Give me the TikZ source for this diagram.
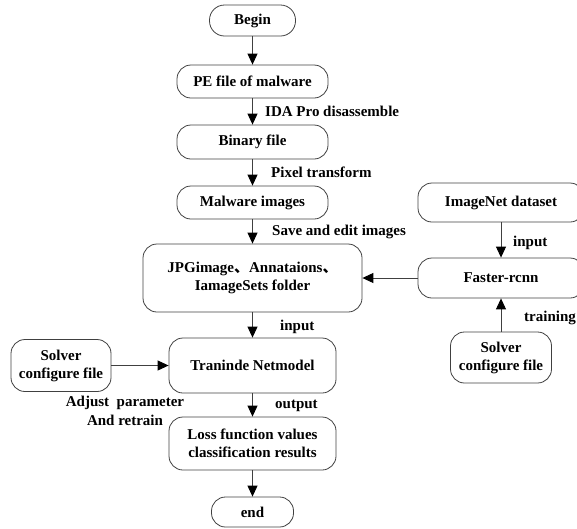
\documentclass[tikz,border=0pt]{standalone}
\usepackage{fontspec}
\setmainfont{Liberation Serif}
\newfontfamily\cjk{Noto Sans CJK SC}
\usetikzlibrary{arrows.meta}
\begin{document}
\begin{tikzpicture}[x=1pt,y=-1pt,
  box/.style={draw=black!75, line width=0.8pt, rounded corners=14pt, align=center,
    font=\bfseries\fontsize{15}{18}\selectfont, inner sep=0pt},
  arr/.style={draw=black!75, line width=0.9pt, -{Triangle[length=11pt,width=10pt,color=black]}},
  lab/.style={font=\bfseries\fontsize{15}{19}\selectfont, anchor=west, inner sep=0pt}]
\clip (0,0) rectangle (577,528);
% main column
\node[box, rounded corners=15pt, minimum width=86pt, minimum height=31pt] (begin) at (252.5,20.5) {Begin};
\node[box, minimum width=151pt, minimum height=33pt] (pe) at (252.5,81.5) {PE file of malware};
\node[box, minimum width=151pt, minimum height=34pt] (bin) at (252.5,142) {Binary file};
\node[box, minimum width=151pt, minimum height=33pt] (mal) at (252.5,202.5) {Malware images};
\node[box, minimum width=219pt, minimum height=68pt] (jpg) at (252.5,278) {JPGimage{\cjk 、}Annataions{\cjk 、}\\IamageSets folder};
\node[box, minimum width=167pt, minimum height=55pt] (tran) at (252.5,365.5) {Traninde Netmodel};
\node[box, minimum width=167pt, minimum height=53pt] (loss) at (252.5,443.5) {Loss function values\\classification results};
\node[box, minimum width=82pt, minimum height=30pt] (endn) at (252.5,512) {end};
% left
\node[box, minimum width=100pt, minimum height=52pt] (lsol) at (61,365.5) {Solver\\configure file};
% right column
\node[box, minimum width=166pt, minimum height=39pt] (imgnet) at (501,202.5) {ImageNet dataset};
\node[box, minimum width=166pt, minimum height=40pt] (frcnn) at (501,278) {Faster-rcnn};
\node[box, minimum width=101pt, minimum height=51pt] (rsol) at (501,357.5) {Solver\\configure file};
% connectors
\draw[arr] (begin) -- (pe);
\draw[arr] (pe) -- (bin);
\draw[arr] (bin) -- (mal);
\draw[arr] (mal) -- (jpg);
\draw[arr] (jpg) -- (tran);
\draw[arr] (tran) -- (loss);
\draw[arr] (loss) -- (endn);
\draw[arr] (lsol) -- (tran);
\draw[arr] (imgnet) -- (frcnn);
\draw[arr] (rsol) -- (frcnn);
\draw[arr] (frcnn) -- (jpg);
% labels
\node[lab] (l1) at (265,111) {IDA Pro disassemble};
\node[lab] (l2) at (271,172) {Pixel transform};
\node[lab] (l3) at (272,232) {Save and edit images};
\node[lab] (l4) at (280,327) {input};
\node[lab] (l5) at (275,406) {output};
\node[lab] (l6) at (513,243) {input};
\node[lab] (l7) at (524,318) {training};
\node[lab, anchor=center, align=center] (l8) at (125,410.5) {Adjust\ \ parameter\\And retrain};
\end{tikzpicture}
\end{document}
